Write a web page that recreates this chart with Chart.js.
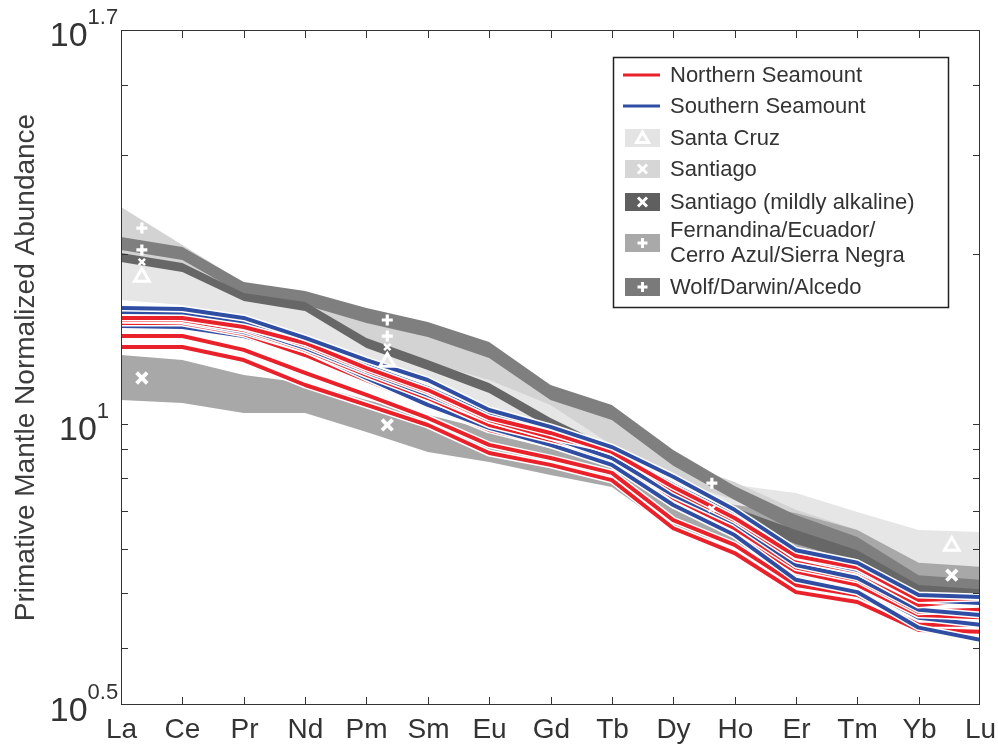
<!DOCTYPE html>
<html>
<head>
<meta charset="utf-8">
<script src="https://cdn.jsdelivr.net/npm/chart.js@4.4.0/dist/chart.umd.min.js"></script>
<style>
  html, body { margin: 0; padding: 0; background: #fff; }
  #wrap { width: 998px; height: 746px; }
</style>
</head>
<body>
<div id="wrap"><canvas id="ree" width="998" height="746"></canvas></div>
<script>
const elements = ['La', 'Ce', 'Pr', 'Nd', 'Pm', 'Sm', 'Eu', 'Gd', 'Tb', 'Dy', 'Ho', 'Er', 'Tm', 'Yb', 'Lu'];

// Northern Seamount samples (red)
const northern = [
    [15.48, 15.48, 14.92, 13.80, 12.46, 11.39, 10.15, 9.47, 8.98, 7.62, 6.74, 5.73, 5.46, 4.76, 4.86],
    [15.42, 15.42, 14.86, 13.92, 12.56, 11.48, 10.24, 9.63, 8.91, 7.72, 6.80, 5.82, 5.55, 4.86, 4.90],
    [15.29, 15.29, 14.68, 13.53, 12.21, 11.11, 9.95, 9.36, 8.80, 7.38, 6.52, 5.55, 5.28, 4.63, 4.67],
    [15.10, 15.10, 14.44, 13.25, 11.96, 10.80, 9.75, 9.17, 8.62, 7.17, 6.39, 5.46, 5.17, 4.57, 4.53],
    [14.32, 14.32, 13.53, 12.31, 11.25, 10.24, 9.17, 8.69, 8.18, 6.74, 6.09, 5.17, 4.96, 4.39, 4.39],
    [13.69, 13.69, 12.98, 11.72, 10.80, 9.95, 8.87, 8.45, 7.94, 6.52, 5.89, 5.02, 4.82, 4.30, 4.27]
];

// Southern Seamount samples (blue)
const southern = [
    [16.06, 15.99, 15.42, 14.21, 12.98, 11.96, 10.58, 9.87, 9.09, 8.05, 7.03, 5.96, 5.66, 4.96, 4.92],
    [15.80, 15.74, 15.17, 13.92, 12.67, 11.57, 10.37, 9.67, 8.91, 7.78, 6.88, 5.80, 5.50, 4.86, 4.80],
    [15.55, 15.48, 14.80, 13.64, 12.36, 11.25, 10.15, 9.47, 8.69, 7.47, 6.66, 5.61, 5.32, 4.67, 4.57],
    [14.92, 14.86, 14.32, 13.36, 12.16, 11.02, 9.95, 9.36, 8.55, 7.32, 6.47, 5.43, 5.17, 4.52, 4.39],
    [15.29, 15.23, 14.56, 13.53, 12.06, 10.80, 9.83, 9.17, 8.45, 7.17, 6.34, 5.28, 5.02, 4.34, 4.13]
];

// island fields (upper / lower envelopes)
const santaCruzHi = [19.39, 18.77, 17.29, 16.26, 14.38, 13.53, 12.72, 11.72, 10.15, 8.28, 7.78, 7.53, 6.97, 6.47, 6.42];
const santaCruzLo = [16.60, 16.26, 15.29, 14.38, 11.96, 11.25, 10.58, 9.67, 8.98, 7.78, 7.03, 6.47, 6.09, 5.61, 5.57];
const fernandinaHi = [24.28, 20.79, 17.79, 17.15, 15.80, 14.80, 13.69, 11.48, 10.37, 8.62, 7.88, 7.03, 6.47, 5.61, 5.55];
const fernandinaLo = [19.95, 19.15, 16.94, 16.06, 13.80, 12.88, 11.96, 10.80, 9.17, 7.94, 7.32, 6.52, 5.96, 5.28, 5.17];
const santiagoHi = [13.25, 12.98, 12.21, 11.81, 11.02, 10.37, 9.75, 9.36, 8.80, 7.62, 7.17, 6.94, 6.47, 5.66, 5.57];
const santiagoLo = [11.02, 10.89, 10.45, 10.45, 9.67, 8.91, 8.55, 8.11, 7.72, 6.47, 6.09, 5.61, 5.38, 5.10, 5.06];
const wolfHi = [21.48, 20.62, 17.87, 17.22, 16.06, 15.17, 13.97, 11.72, 10.80, 8.98, 7.75, 6.88, 6.29, 5.38, 5.28];
const wolfLo = [20.37, 19.55, 16.94, 16.26, 15.10, 14.26, 13.09, 11.02, 10.15, 8.42, 7.32, 6.42, 5.91, 5.06, 4.98];
const alkalineHi = [20.12, 19.31, 17.08, 16.46, 14.21, 12.98, 11.81, 10.24, 9.06, 7.69, 7.09, 6.47, 5.96, 5.17, 5.08];
const alkalineLo = [19.39, 18.62, 16.53, 15.87, 13.64, 12.46, 11.34, 9.83, 8.69, 7.32, 6.74, 6.11, 5.68, 4.94, 4.90];

// white field symbols
const plusMarks = [{x: 0.34, y: 22.28}, {x: 0.34, y: 20.37}, {x: 4.34, y: 15.29}, {x: 4.34, y: 14.32}, {x: 9.63, y: 7.84}];
const smallXMarks = [{x: 0.34, y: 19.39}, {x: 4.34, y: 13.69}, {x: 9.63, y: 7.06}];
const triangleMarks = [{x: 0.34, y: 18.24}, {x: 4.34, y: 12.88}, {x: 13.54, y: 6.06}];
const bigXMarks = [{x: 0.34, y: 12.06}, {x: 4.34, y: 9.95}, {x: 13.54, y: 5.38}];

const yMin = Math.pow(10, 0.5);
const yMax = Math.pow(10, 1.7);
const minorTicks = [4, 5, 6, 7, 8, 9, 20, 30, 40];
const majorTicks = [{v: yMin, exp: '0.5'}, {v: 10, exp: '1'}, {v: yMax, exp: '1.7'}];

const RED = '#e8212a';
const BLUE = '#2f4ea3';
const FONT = '"Liberation Sans", Arial, Helvetica, sans-serif';
const TEXT = '#333333';

const pts = arr => arr.map((v, i) => ({x: i, y: v}));

const datasets = [];
function band(hi, lo, color) {
    datasets.push({data: pts(hi), fill: '+1', backgroundColor: color, borderWidth: 0, pointRadius: 0});
    datasets.push({data: pts(lo), fill: false, borderWidth: 0, pointRadius: 0});
}
band(santaCruzHi, santaCruzLo, '#e6e6e6');
band(fernandinaHi, fernandinaLo, '#d3d3d3');
band(santiagoHi, santiagoLo, '#a8a8a8');
band(wolfHi, wolfLo, '#7f7f7f');
band(alkalineHi, alkalineLo, '#676767');

function sample(values, color) {
    datasets.push({data: pts(values), borderColor: '#ffffff', borderWidth: 7, pointRadius: 0, fill: false});
    datasets.push({data: pts(values), borderColor: color, borderWidth: 4, pointRadius: 0, fill: false});
}
// interleave so neither group sits entirely on top
const order = [
    ['n', 5], ['n', 4], ['s', 3], ['n', 3], ['s', 4], ['n', 2], ['s', 2],
    ['n', 0], ['s', 1], ['n', 1], ['s', 0]
];
order.forEach(([g, i]) => sample(g === 'n' ? northern[i] : southern[i], g === 'n' ? RED : BLUE));

function marks(data, style, r, w) {
    datasets.push({data, showLine: false, pointStyle: style, pointRadius: r, pointBorderWidth: w,
        pointBorderColor: '#ffffff', pointBackgroundColor: 'rgba(0,0,0,0)', fill: false});
}
marks(plusMarks, 'cross', 5.5, 3.2);
marks(smallXMarks, 'crossRot', 4.5, 2.5);
marks(triangleMarks, 'triangle', 8.5, 3);
marks(bigXMarks, 'crossRot', 7.5, 3.8);

// first dataset drawn first (Chart.js draws lowest order last)
datasets.forEach((d, i) => { d.order = datasets.length - i; d.tension = 0; });

const legendItems = [
    {kind: 'line', color: RED, text: ['Northern Seamount']},
    {kind: 'line', color: BLUE, text: ['Southern Seamount']},
    {kind: 'patch', color: '#e4e4e4', mark: 'tri', text: ['Santa Cruz']},
    {kind: 'patch', color: '#d6d6d6', mark: 'x', text: ['Santiago']},
    {kind: 'patch', color: '#5f5f5f', mark: 'x', text: ['Santiago (mildly alkaline)']},
    {kind: 'patch', color: '#a9a9a9', mark: 'plus', text: ['Fernandina/Ecuador/', 'Cerro Azul/Sierra Negra']},
    {kind: 'patch', color: '#7a7a7a', mark: 'plus', text: ['Wolf/Darwin/Alcedo']}
];

function drawMark(ctx, kind, cx, cy) {
    ctx.save();
    ctx.strokeStyle = '#ffffff';
    ctx.lineWidth = 3;
    ctx.beginPath();
    if (kind === 'plus') {
        ctx.moveTo(cx - 5, cy); ctx.lineTo(cx + 5, cy);
        ctx.moveTo(cx, cy - 5); ctx.lineTo(cx, cy + 5);
    } else if (kind === 'x') {
        ctx.moveTo(cx - 4.5, cy - 4.5); ctx.lineTo(cx + 4.5, cy + 4.5);
        ctx.moveTo(cx + 4.5, cy - 4.5); ctx.lineTo(cx - 4.5, cy + 4.5);
    } else {
        ctx.moveTo(cx, cy - 6); ctx.lineTo(cx + 6, cy + 4.5); ctx.lineTo(cx - 6, cy + 4.5); ctx.closePath();
    }
    ctx.stroke();
    ctx.restore();
}

const matlabAxes = {
    id: 'matlabAxes',
    afterDraw(chart) {
        const {ctx, chartArea: a, scales: {x, y}} = chart;
        ctx.save();
        ctx.strokeStyle = '#333333';
        ctx.lineWidth = 1;
        ctx.strokeRect(a.left + 0.5, a.top + 0.5, a.right - a.left - 1, a.bottom - a.top - 1);

        const tick = (x1, y1, x2, y2) => { ctx.beginPath(); ctx.moveTo(x1, y1); ctx.lineTo(x2, y2); ctx.stroke(); };

        // x ticks and labels
        ctx.fillStyle = TEXT;
        ctx.font = '28px ' + FONT;
        ctx.textAlign = 'center';
        ctx.textBaseline = 'middle';
        elements.forEach((el, i) => {
            const px = Math.round(x.getPixelForValue(i)) + 0.5;
            if (i > 0 && i < elements.length - 1) {
                tick(px, a.bottom, px, a.bottom - 8);
                tick(px, a.top, px, a.top + 8);
            }
            ctx.fillText(el, px, a.bottom + 25);
        });

        // y ticks
        [...minorTicks, 10].forEach(v => {
            const py = Math.round(y.getPixelForValue(v)) + 0.5;
            tick(a.left, py, a.left + 7, py);
            tick(a.right, py, a.right - 7, py);
        });

        // y labels 10^n, centred under one another
        majorTicks.forEach(t => {
            const py = y.getPixelForValue(t.v);
            ctx.font = '34px ' + FONT;
            const wBase = ctx.measureText('10').width;
            ctx.font = '22px ' + FONT;
            const wExp = ctx.measureText(t.exp).width;
            const left = 84 - (wBase + wExp) / 2;
            ctx.textAlign = 'left';
            ctx.textBaseline = 'alphabetic';
            ctx.font = '34px ' + FONT;
            ctx.fillText('10', left, py + 16);
            ctx.font = '22px ' + FONT;
            ctx.fillText(t.exp, left + wBase, py - 6);
        });

        // y title
        ctx.save();
        ctx.translate(26, (a.top + a.bottom) / 2);
        ctx.rotate(-Math.PI / 2);
        ctx.font = '28px ' + FONT;
        ctx.fillStyle = '#3c3c3c';
        ctx.textAlign = 'center';
        ctx.textBaseline = 'middle';
        ctx.fillText('Primative Mantle Normalized Abundance', 0, 0);
        ctx.restore();

        // legend
        const lx = 613, ly = 57, lw = 335, lh = 250;
        ctx.fillStyle = '#ffffff';
        ctx.fillRect(lx, ly, lw, lh);
        ctx.strokeStyle = '#222222';
        ctx.lineWidth = 1.5;
        ctx.strokeRect(lx + 0.5, ly + 0.5, lw, lh);
        const rowY = [75, 106, 138, 169, 202, 243, 287];
        ctx.font = '22px ' + FONT;
        ctx.textAlign = 'left';
        ctx.textBaseline = 'middle';
        legendItems.forEach((it, i) => {
            const cy = rowY[i];
            if (it.kind === 'line') {
                ctx.strokeStyle = it.color;
                ctx.lineWidth = 3;
                tick(623, cy, 660, cy);
            } else {
                ctx.fillStyle = it.color;
                ctx.fillRect(625, cy - 9, 35, 18);
                drawMark(ctx, it.mark, 642.5, cy);
            }
            ctx.fillStyle = TEXT;
            if (it.text.length === 1) {
                ctx.fillText(it.text[0], 670, cy + 1);
            } else {
                ctx.fillText(it.text[0], 670, cy - 12);
                ctx.fillText(it.text[1], 670, cy + 13);
            }
        });
        ctx.restore();
    }
};

new Chart(document.getElementById('ree'), {
    type: 'line',
    data: {datasets},
    options: {
        responsive: false,
        animation: false,
        devicePixelRatio: 1,
        layout: {padding: {left: 121, right: 18, top: 30, bottom: 41}},
        plugins: {legend: {display: false}, tooltip: {enabled: false}},
        elements: {line: {borderJoinStyle: 'round', borderCapStyle: 'butt'}},
        scales: {
            x: {type: 'linear', display: false, min: 0, max: elements.length - 1, bounds: 'data'},
            y: {type: 'logarithmic', display: false, min: yMin, max: yMax, bounds: 'data',
                afterDataLimits: s => { s.min = yMin; s.max = yMax; }}
        }
    },
    plugins: [matlabAxes]
});
</script>
</body>
</html>
